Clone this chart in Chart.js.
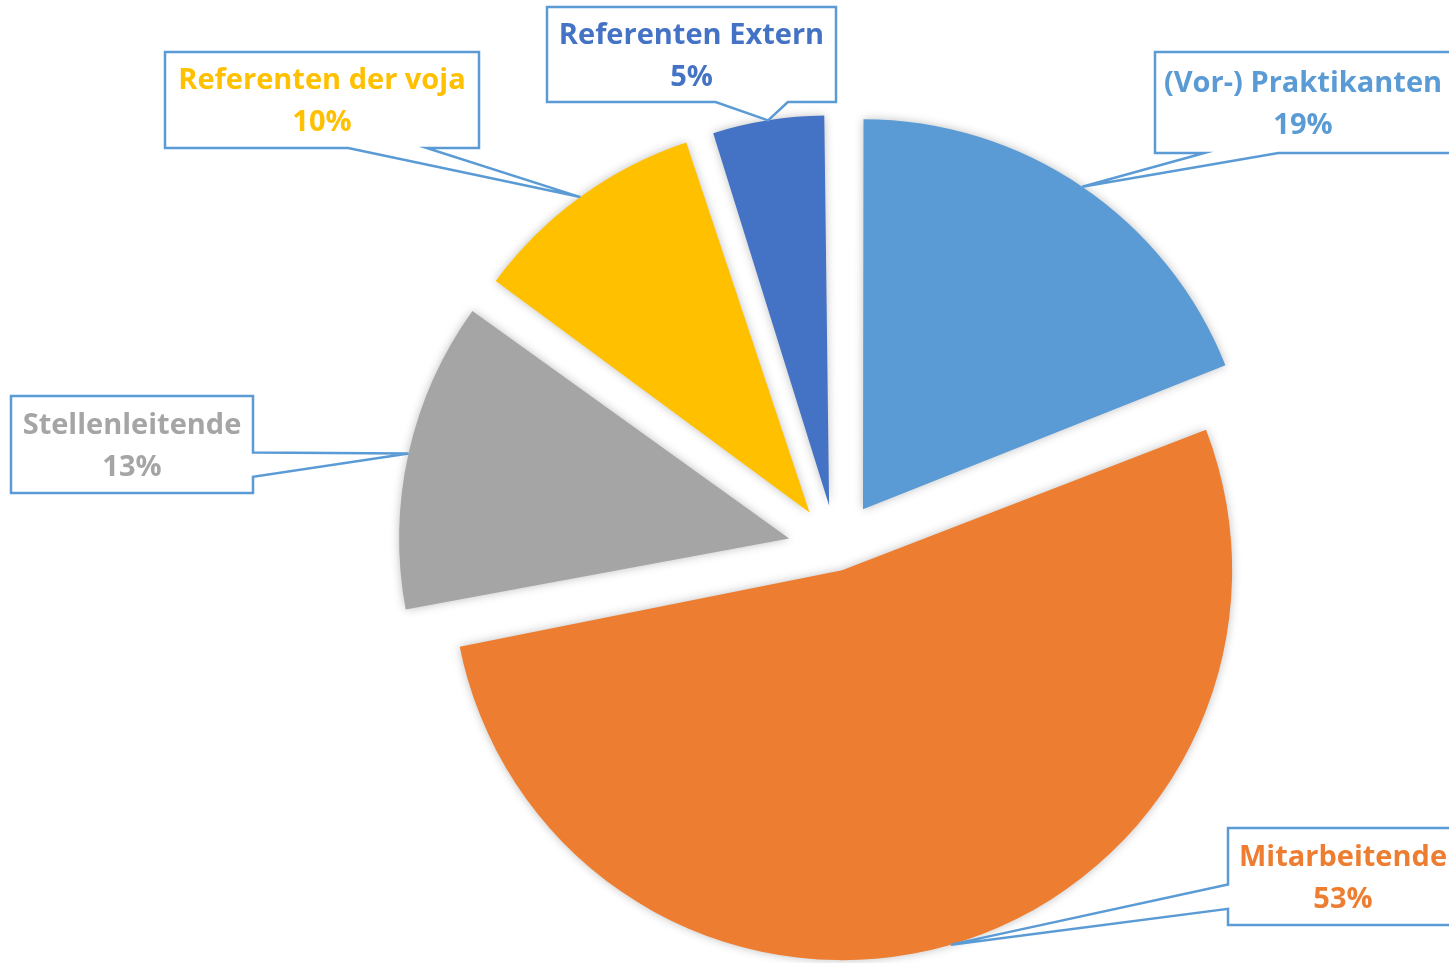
<!DOCTYPE html>
<html>
<head>
<meta charset="utf-8">
<script src="https://cdn.jsdelivr.net/npm/chart.js@4.4.1/dist/chart.umd.min.js"></script>
<style>
  html, body { margin: 0; padding: 0; background: #fff; }
  canvas { display: block; }
</style>
</head>
<body>
<canvas id="pieChart" width="1449" height="963"></canvas>
<script>
// categories and values (percent)
const labels = ['(Vor-) Praktikanten', 'Mitarbeitende', 'Stellenleitende', 'Referenten der voja', 'Referenten Extern'];
const shares = [19, 53, 13, 10, 5];

const sliceColors = ['#5B9BD5', '#ED7D31', '#A5A5A5', '#FFC000', '#4472C4'];
// explode distance of each slice in px
const explode = [48, 22, 48, 45, 44];

// callout boxes, same order as labels
const callouts = [
    { x: 1155, y: 52, w: 296, h: 101 },
    { x: 1228, y: 828, w: 230, h: 97 },
    { x: 11, y: 396, w: 242, h: 97 },
    { x: 165, y: 52, w: 314, h: 96 },
    { x: 547, y: 7, w: 289, h: 95 }
];

// chart.js v4 arc: translates by offset/4 and grows radius by (offset/4)*fix
function arcShift(arc) {
    const off = (arc.options.offset || 0) / 4;
    const circ = arc.endAngle - arc.startAngle;
    const fix = 1 - Math.sin(Math.min(Math.PI, circ || 0));
    return { move: off, grow: off * fix };
}

const explodeFix = {
    id: 'explodeFix',
    beforeDatasetsDraw(chart) {
        const meta = chart.getDatasetMeta(0);
        const base = meta.controller.outerRadius;
        meta.data.forEach(arc => {
            arc.outerRadius = base - arcShift(arc).grow;
        });
        const ctx = chart.ctx;
        ctx.save();
        ctx.shadowColor = 'rgba(0,0,0,0.25)';
        ctx.shadowBlur = 10;
    },
    afterDatasetsDraw(chart) {
        chart.ctx.restore();
    }
};

function calloutPath(ctx, b, ax, ay) {
    const l = b.x, t = b.y, r = b.x + b.w, btm = b.y + b.h;
    const dx = ax - (l + b.w / 2);
    const dy = ay - (t + b.h / 2);
    const dq = dx * b.h / b.w;
    const x1 = l + b.w * (dx > 0 ? 7 : 2) / 12;
    const x2 = l + b.w * (dx > 0 ? 10 : 5) / 12;
    const y1 = t + b.h * (dy > 0 ? 7 : 2) / 12;
    const y2 = t + b.h * (dy > 0 ? 10 : 5) / 12;
    ctx.beginPath();
    ctx.moveTo(l, t);
    if (Math.abs(dy) > Math.abs(dq)) {
        if (dy < 0) {
            ctx.lineTo(x1, t); ctx.lineTo(ax, ay); ctx.lineTo(x2, t);
            ctx.lineTo(r, t); ctx.lineTo(r, btm); ctx.lineTo(l, btm);
        } else {
            ctx.lineTo(r, t); ctx.lineTo(r, btm);
            ctx.lineTo(x2, btm); ctx.lineTo(ax, ay); ctx.lineTo(x1, btm);
            ctx.lineTo(l, btm);
        }
    } else {
        if (dx < 0) {
            ctx.lineTo(r, t); ctx.lineTo(r, btm); ctx.lineTo(l, btm);
            ctx.lineTo(l, y2); ctx.lineTo(ax, ay); ctx.lineTo(l, y1);
        } else {
            ctx.lineTo(r, t); ctx.lineTo(r, y1); ctx.lineTo(ax, ay);
            ctx.lineTo(r, y2); ctx.lineTo(r, btm); ctx.lineTo(l, btm);
        }
    }
    ctx.closePath();
}

const calloutLabels = {
    id: 'calloutLabels',
    afterDraw(chart) {
        const ctx = chart.ctx;
        const meta = chart.getDatasetMeta(0);
        const base = meta.controller.outerRadius;
        meta.data.forEach((arc, i) => {
            const mid = (arc.startAngle + arc.endAngle) / 2;
            const dist = arcShift(arc).move + base;
            const ax = arc.x + Math.cos(mid) * dist;
            const ay = arc.y + Math.sin(mid) * dist;
            const b = callouts[i];

            ctx.save();
            calloutPath(ctx, b, ax, ay);
            ctx.fillStyle = '#fff';
            ctx.fill();
            ctx.lineWidth = 2.5;
            ctx.strokeStyle = '#5B9BD5';
            ctx.lineJoin = 'miter';
            ctx.stroke();

            ctx.fillStyle = sliceColors[i];
            ctx.font = 'bold 29px "Open Sans"';
            ctx.textAlign = 'center';
            ctx.textBaseline = 'middle';
            const cx = b.x + b.w / 2, cy = b.y + b.h / 2;
            ctx.fillText(labels[i], cx, cy - 19);
            ctx.fillText(shares[i] + '%', cx, cy + 23);
            ctx.restore();
        });
    }
};

const pieChart = document.getElementById('pieChart').getContext('2d');

new Chart(pieChart, {
    type: 'pie',
    data: {
        labels: labels,
        datasets: [{
            data: shares,
            backgroundColor: sliceColors,
            borderWidth: 0,
            offset: explode.map(e => e * 4)
        }]
    },
    options: {
        responsive: false,
        animation: false,
        events: [],
        radius: 390,
        layout: { padding: { left: 223, right: 0, top: 135, bottom: 0 } },
        plugins: {
            legend: { display: false },
            tooltip: { enabled: false }
        }
    },
    plugins: [explodeFix, calloutLabels]
});
</script>
</body>
</html>
